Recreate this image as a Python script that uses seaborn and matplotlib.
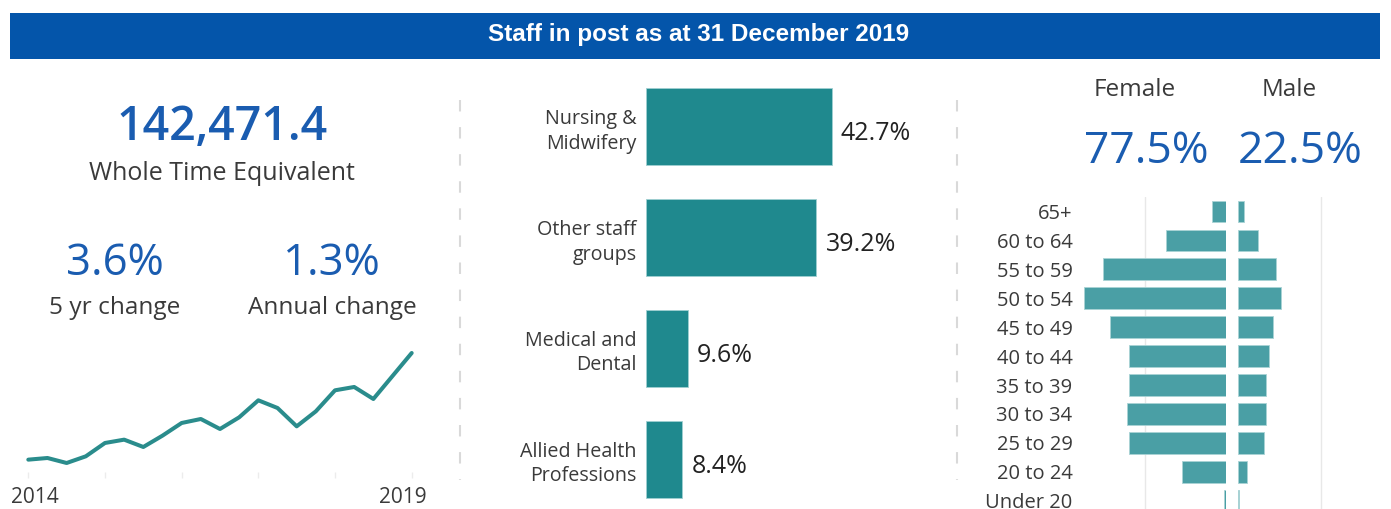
import numpy as np
import matplotlib
matplotlib.use("Agg")
import matplotlib.pyplot as plt
import matplotlib.transforms as mtransforms
import seaborn as sns

# ---------------- data ----------------
title = "Staff in post as at 31 December 2019"
wte_total = "142,471.4"
five_yr_change = "3.6%"
annual_change = "1.3%"

quarters = ["Dec 2014", "Mar 2015", "Jun 2015", "Sep 2015", "Dec 2015", "Mar 2016", "Jun 2016",
            "Sep 2016", "Dec 2016", "Mar 2017", "Jun 2017", "Sep 2017", "Dec 2017", "Mar 2018",
            "Jun 2018", "Sep 2018", "Dec 2018", "Mar 2019", "Jun 2019", "Sep 2019", "Dec 2019"]
wte = [137521, 137598, 137366, 137676, 138295, 138449, 138109, 138635, 139223, 139408, 138944,
       139486, 140275, 139919, 139068, 139764, 140739, 140894, 140337, 141404, 142471]
year_ticks = ["2014", "", "", "", "", "2019"]

staff_groups = ["Nursing &\nMidwifery", "Other staff\ngroups", "Medical and\nDental",
                "Allied Health\nProfessions"]
staff_share = [42.7, 39.2, 9.6, 8.4]

female_share = "77.5%"
male_share = "22.5%"
age_bands = ["65+", "60 to 64", "55 to 59", "50 to 54", "45 to 49", "40 to 44", "35 to 39",
             "30 to 34", "25 to 29", "20 to 24", "Under 20"]
female_wte = [1742, 7464, 15301, 17590, 14356, 12067, 12067, 12241, 12067, 5399, 162]
male_wte = [754, 2394, 4620, 5183, 4261, 3711, 3352, 3352, 3148, 1113, 156]

# ---------------- style ----------------
sns.set_theme(style="white")
plt.rcParams["font.family"] = ["Open Sans", "DejaVu Sans"]

BLUE = "#1a5cb0"
HEADER = "#0455aa"
TEAL_BAR = "#1f898e"
TEAL_PYR = "#4a9fa5"
TEAL_LINE = "#2a8c8c"
TXT = "#3a3a3a"

W, H = 1391, 509
fig = plt.figure(figsize=(W / 100, H / 100), dpi=100)
fig.patch.set_facecolor("white")


def px_axes(x0, y0, x1, y1):
    return fig.add_axes([x0 / W, 1 - y1 / H, (x1 - x0) / W, (y1 - y0) / H])


def ftext(x, y, s, **kw):
    fig.text(x / W, 1 - y / H, s, **kw)


# header
hdr = px_axes(10, 13, 1380, 59)
hdr.set_facecolor(HEADER)
hdr.set_xticks([]); hdr.set_yticks([])
for sp in hdr.spines.values():
    sp.set_visible(False)
ftext(699, 41.5, title, ha="center", va="baseline", color="white", fontsize=17.5,
      fontweight="bold", family=["Liberation Sans", "DejaVu Sans"])

# dividers
for xd in (460, 957):
    fig.add_artist(plt.Line2D([xd / W, xd / W], [1 - 100 / H, 1 - 480 / H], color="#d9d9d9",
                              lw=1.5, linestyle=(0, (5.5, 7.5))))

# ---------------- left panel ----------------
ftext(222, 128, wte_total, ha="center", va="center", color=BLUE, fontsize=33.5, fontweight="semibold")
ftext(222, 173, "Whole Time Equivalent", ha="center", va="center", color=TXT, fontsize=18)
ftext(115, 263.5, five_yr_change, ha="center", va="center", color=BLUE, fontsize=31.5)
ftext(332, 263.5, annual_change, ha="center", va="center", color=BLUE, fontsize=31.5)
ftext(115, 307.5, "5 yr change", ha="center", va="center", color=TXT, fontsize=17.6)
ftext(332, 307.5, "Annual change", ha="center", va="center", color=TXT, fontsize=17.6)

axl = px_axes(28.3, 340, 411.7, 472)
xpos = np.arange(len(wte))
sns.lineplot(x=xpos, y=wte, ax=axl, color=TEAL_LINE, linewidth=2.9, clip_on=False)
axl.set_xlim(0, len(wte) - 1)
axl.set_ylim(136948, 143074)
axl.set_xticks(xpos[::4])
axl.set_xticklabels(year_ticks, fontsize=15, color=TXT)
axl.set_yticks([])
axl.tick_params(axis="x", length=4, width=1, color="#ececec", pad=7, bottom=True)
labs = axl.get_xticklabels()
labs[0].set_transform(labs[0].get_transform() + mtransforms.Affine2D().translate(7, 0))
labs[-1].set_transform(labs[-1].get_transform() + mtransforms.Affine2D().translate(-9, 0))
for sp in axl.spines.values():
    sp.set_visible(False)
axl.set_facecolor("none")

# ---------------- middle panel ----------------
axb = px_axes(645.7, 71.2, 940, 514.8)
sns.barplot(x=staff_share, y=staff_groups, orient="h", ax=axb, color=TEAL_BAR, width=0.69,
            saturation=1, edgecolor="#9fcfd1", linewidth=0.6)
axb.set_xlim(0, (940 - 645.7) / 4.356)
axb.set_ylim(3.5, -0.5)
axb.set_xticks([])
axb.set_xlabel(""); axb.set_ylabel("")
axb.tick_params(axis="y", length=0, pad=6.5)
for lab in axb.get_yticklabels():
    lab.set_fontsize(14.2)
    lab.set_color(TXT)
    lab.set_linespacing(1.3)
for sp in axb.spines.values():
    sp.set_visible(False)
axb.set_facecolor("none")
for i, v in enumerate(staff_share):
    axb.annotate(f"{v}%", xy=(v, i), xytext=(9, -7), textcoords="offset pixels", ha="left",
                 va="center", fontsize=18, color="#222222")

# ---------------- right panel ----------------
ftext(1135, 90, "Female", ha="center", va="center", color=TXT, fontsize=17.5)
ftext(1289, 90, "Male", ha="center", va="center", color=TXT, fontsize=17.5)
ftext(1146, 152, female_share, ha="center", va="center", color=BLUE, fontsize=32)
ftext(1300, 152, male_share, ha="center", va="center", color=BLUE, fontsize=32)

row_h = 28.92
y_top = 211.5 - row_h / 2
y_bot = 211.5 + (len(age_bands) - 0.5) * row_h

axf = px_axes(1078, y_top, 1225.7, y_bot)
axm = px_axes(1237.7, y_top, 1391, y_bot)
sns.barplot(x=female_wte, y=age_bands, orient="h", ax=axf, color=TEAL_PYR, width=0.75,
            saturation=1, edgecolor="#a9d3d5", linewidth=0.6)
sns.barplot(x=male_wte, y=age_bands, orient="h", ax=axm, color=TEAL_PYR, width=0.75,
            saturation=1, edgecolor="#a9d3d5", linewidth=0.6)
axf.set_xlim((1225.7 - 1078) * 124.4, 0)
axm.set_xlim(0, (1391 - 1237.7) * 119.7)
for a in (axf, axm):
    a.set_ylim(len(age_bands) - 0.5, -0.5)
    a.set_xticks([10000])
    a.set_xticklabels([])
    a.tick_params(axis="x", length=0)
    a.grid(axis="x", color="#e8e8e8", linewidth=1)
    a.set_axisbelow(True)
    a.set_xlabel(""); a.set_ylabel("")
    for sp in a.spines.values():
        sp.set_visible(False)
    a.set_facecolor("none")
axm.set_yticks([])
axf.tick_params(axis="y", length=0, pad=4)
for lab in axf.get_yticklabels():
    lab.set_fontsize(14.5)
    lab.set_color(TXT)

fig.savefig("out.png", dpi=100, facecolor="white")
